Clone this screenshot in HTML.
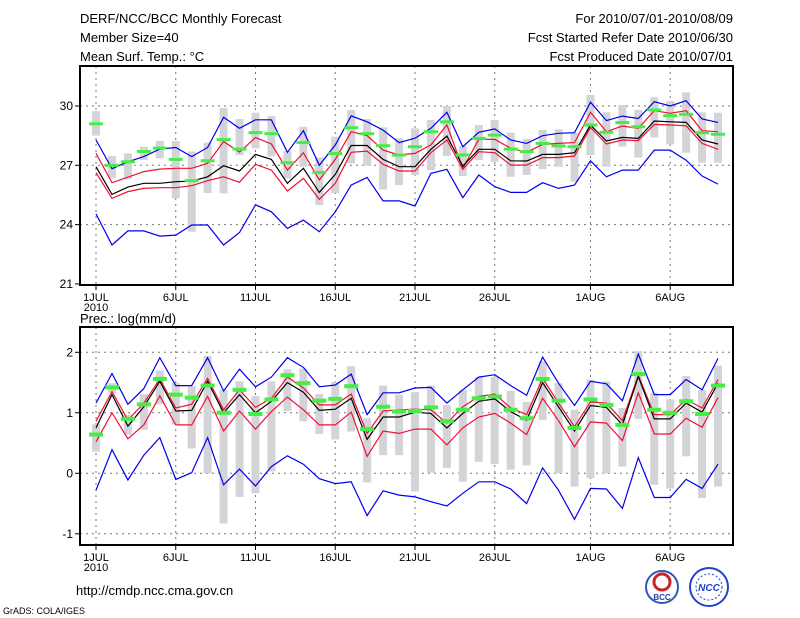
<!DOCTYPE html>
<html><head><meta charset="utf-8"><style>
html,body{margin:0;padding:0;background:#fff;}
svg{display:block;font-family:"Liberation Sans",sans-serif;}
</style></head><body>
<svg id="c" width="800" height="618" viewBox="0 0 800 618" xmlns="http://www.w3.org/2000/svg">
<g font-size="13" fill="#000">
<text x="80" y="23">DERF/NCC/BCC Monthly Forecast</text>
<text x="80" y="42">Member Size=40</text>
<text x="80" y="61">Mean Surf. Temp.: °C</text>
<text x="733" y="23" text-anchor="end">For 2010/07/01-2010/08/09</text>
<text x="733" y="42" text-anchor="end">Fcst Started Refer Date 2010/06/30</text>
<text x="733" y="61" text-anchor="end">Fcst Produced Date 2010/07/01</text>
<text x="80" y="323">Prec.: log(mm/d)</text>
<text x="76" y="595">http://cmdp.ncc.cma.gov.cn</text>
<text x="3" y="614" font-size="9">GrADS: COLA/IGES</text>
</g>
<g>
<circle cx="662" cy="587" r="16" fill="#fff" stroke="#3355bb" stroke-width="2"/>
<circle cx="662" cy="582" r="8" fill="none" stroke="#cc2222" stroke-width="3"/>
<text x="662" y="600" font-size="8" text-anchor="middle" fill="#2244aa" font-weight="bold">BCC</text>
</g>
<g>
<circle cx="709" cy="587" r="19" fill="#fff" stroke="#2244cc" stroke-width="2"/>
<circle cx="709" cy="587" r="13" fill="none" stroke="#2244cc" stroke-width="1" stroke-dasharray="2 2"/>
<text x="709" y="591" font-size="10" text-anchor="middle" fill="#2244cc" font-weight="bold" font-style="italic">NCC</text>
</g>
<g id="plots"></g>
</svg>
<script>
// ---- Temperature panel data (days 0..39 from 1 Jul 2010) ----
const tBoxHi=[29.74,27.47,27.6,27.94,28.23,28.23,27.7,28.15,29.9,29.34,29.66,29.5,27.72,28.95,27.4,28.45,29.8,29.34,28.92,28.37,28.87,29.3,30.0,27.98,29.04,29.3,28.65,28.33,28.79,28.82,28.65,30.56,29.68,30.05,29.8,30.44,30.25,30.69,29.68,29.66];
const tBoxLo=[28.5,26.34,26.3,27.27,27.35,25.33,23.64,25.6,25.58,27.52,27.86,27.44,26.34,26.93,24.99,25.6,27.1,26.98,25.78,26.0,26.51,26.76,27.47,26.46,27.27,27.18,26.42,26.51,26.81,26.93,26.17,27.52,26.93,27.94,27.39,28.4,28.06,27.64,27.13,27.13];
const tObs=[29.1,27.0,27.18,27.7,27.87,27.3,26.22,27.23,28.3,27.82,28.65,28.6,27.13,28.15,26.64,27.59,28.9,28.6,27.99,27.52,27.94,28.7,29.2,27.52,28.36,28.53,27.82,27.69,28.11,27.98,27.94,29.04,28.67,29.16,28.95,29.8,29.51,29.58,28.65,28.57];
const tBlueHi=[28.28,26.83,27.18,27.44,27.82,27.9,27.44,27.9,29.43,28.87,29.3,29.3,27.66,28.75,27.0,28.03,29.5,29.2,28.78,28.15,28.37,28.87,29.68,27.94,28.67,28.84,28.28,28.11,28.5,28.62,28.65,30.19,29.26,29.49,29.37,30.22,30.0,30.27,29.34,29.17];
const tRedHi=[27.6,26.12,26.4,26.68,26.81,26.85,26.85,27.1,28.2,27.67,28.4,28.08,26.76,27.64,26.26,27.3,28.7,28.5,27.77,27.52,27.6,28.03,29.04,26.85,28.31,28.31,27.86,27.66,28.06,28.11,28.15,29.68,28.7,28.99,28.87,29.76,29.63,29.76,28.75,28.7];
const tMean=[26.93,25.53,25.9,26.09,26.09,26.17,26.2,26.42,26.98,26.71,27.55,27.3,26.09,26.85,25.63,26.54,28.0,28.0,27.3,26.93,26.93,27.81,28.48,26.96,27.81,27.81,27.23,27.22,27.55,27.55,27.64,29.04,28.23,28.41,28.36,29.24,29.2,29.17,28.28,28.08];
const tRedLo=[26.63,25.33,25.67,25.83,25.87,25.87,25.97,26.22,26.42,26.14,27.05,26.76,25.7,26.34,25.28,26.09,27.66,27.72,27.05,26.71,26.71,27.64,28.28,26.8,27.69,27.64,27.01,27.01,27.39,27.39,27.47,28.92,28.08,28.28,28.25,29.07,29.04,29.0,28.11,27.81];
const tBlueLo=[24.54,22.97,23.68,23.68,23.42,23.47,23.98,23.98,22.97,23.6,25.0,24.65,23.81,24.23,23.64,24.65,26.0,26.39,25.2,25.2,24.94,26.59,26.8,25.36,26.51,25.92,25.63,25.63,26.12,25.83,26.0,27.23,26.42,26.76,26.76,27.77,27.77,27.26,26.46,26.05];
const tTicks=[21,24,27,30];
// ---- Precipitation panel data ----
const pBoxHi=[0.81,1.49,0.97,1.31,1.7,1.49,1.44,1.94,1.38,1.52,1.28,1.52,1.72,1.73,1.31,1.51,1.77,0.91,1.45,1.3,1.34,1.45,1.13,1.38,1.59,1.59,1.36,1.18,1.85,1.49,1.05,1.55,1.52,1.08,2.02,1.33,1.22,1.61,1.38,1.78];
const pBoxLo=[0.36,1.33,0.64,0.72,1.14,0.81,0.41,0.0,-0.83,-0.39,-0.33,0.03,1.03,0.86,0.65,0.56,0.69,-0.15,0.3,0.3,-0.3,0.01,0.09,-0.14,0.19,0.15,0.06,0.13,0.88,0.0,-0.22,-0.08,0.0,0.11,0.9,-0.19,-0.25,0.28,-0.41,-0.22];
const pObs=[0.64,1.42,0.9,1.14,1.56,1.3,1.25,1.45,1.0,1.38,0.98,1.22,1.62,1.49,1.2,1.23,1.44,0.73,1.1,1.02,1.03,1.09,0.86,1.05,1.24,1.27,1.05,0.91,1.56,1.2,0.75,1.22,1.13,0.8,1.64,1.05,1.0,1.19,0.98,1.45];
const pBlueHi=[1.16,1.65,1.14,1.4,1.91,1.45,1.45,1.91,1.36,1.72,1.43,1.59,1.91,1.75,1.43,1.46,1.64,0.97,1.33,1.33,1.41,1.42,1.16,1.38,1.59,1.63,1.45,1.29,1.92,1.49,1.12,1.52,1.48,1.2,1.97,1.3,1.3,1.55,1.38,1.9];
const pRedHi=[0.86,1.35,0.88,1.16,1.56,1.08,1.14,1.57,1.05,1.38,1.09,1.24,1.59,1.41,1.13,1.13,1.31,0.66,1.03,1.05,1.06,1.05,0.83,1.1,1.27,1.31,1.08,0.97,1.57,1.16,0.77,1.18,1.16,0.87,1.62,0.97,0.97,1.22,1.08,1.55];
const pMean=[0.75,1.3,0.78,1.1,1.52,1.03,1.04,1.52,1.0,1.3,1.0,1.19,1.5,1.34,1.04,1.06,1.24,0.56,0.93,0.93,1.01,0.99,0.75,0.99,1.19,1.23,1.02,0.88,1.5,1.1,0.7,1.12,1.09,0.8,1.6,0.9,0.9,1.16,1.01,1.49];
const pRedLo=[0.52,1.0,0.57,0.8,1.28,0.8,0.8,1.27,0.7,1.03,0.73,1.02,1.26,1.05,0.8,0.8,1.01,0.28,0.7,0.66,0.73,0.73,0.47,0.75,0.93,0.99,0.83,0.64,1.24,0.87,0.44,0.85,0.83,0.54,1.33,0.65,0.65,0.91,0.76,1.25];
const pBlueLo=[-0.28,0.39,-0.11,0.3,0.59,-0.1,0.01,0.59,-0.19,0.07,-0.21,0.11,0.29,0.15,-0.09,-0.17,-0.14,-0.7,-0.29,-0.36,-0.39,-0.47,-0.54,-0.33,-0.14,-0.14,-0.26,-0.5,0.09,-0.28,-0.76,-0.25,-0.26,-0.58,0.26,-0.4,-0.4,-0.1,-0.25,0.15];
const pTicks=[-1,0,1,2];
const xTickDays=[0,5,10,15,20,25,31,36];
const xTickLabels=["1JUL","6JUL","11JUL","16JUL","21JUL","26JUL","1AUG","6AUG"];

const NS="http://www.w3.org/2000/svg";
const root=document.getElementById('plots');
const X0=80,X1=733;
function xs(d){return 96+d*15.95;}
function mk(tag,attrs,parent){const e=document.createElementNS(NS,tag);for(const k in attrs)e.setAttribute(k,attrs[k]);parent.appendChild(e);return e;}

function panel(name,top,bottom,vTop,vBot,ys,ticks,boxHi,boxLo,obs,bHi,rHi,mean,rLo,bLo,obsH){
  const g=mk('g',{},root);
  
  
  // grid
  ticks.forEach(t=>{const y=ys(t);if(y>top+2&&y<bottom-2){const l=mk('line',{x1:X0,x2:X1,y1:y,y2:y,stroke:'#777','stroke-dasharray':'2 4','stroke-width':1},g);
    }});
  xTickDays.forEach(d=>{const l=mk('line',{x1:xs(d),x2:xs(d),y1:top,y2:bottom,stroke:'#777','stroke-dasharray':'2 4','stroke-width':1},g);
    });
  // boxes
  boxHi.forEach((v,i)=>{const y1=ys(v),y2=ys(boxLo[i]);const r=mk('rect',{x:xs(i)-4,y:y1,width:8,height:Math.max(1,y2-y1),fill:'#d4d4d8'},g);
    });
  const line=(arr,col,nm)=>{const p=mk('polyline',{points:arr.map((v,i)=>xs(i).toFixed(1)+','+ys(v).toFixed(1)).join(' '),fill:'none',stroke:col,'stroke-width':1.2},g);
    };
  line(bLo,'#0000ee','lower-bound-line');
  line(rLo,'#ee1133','lower-quartile-line');
  line(bHi,'#0000ee','upper-bound-line');
  line(rHi,'#ee1133','upper-quartile-line');
  line(mean,'#000','ensemble-mean-line');
  obs.forEach((v,i)=>{const r=mk('rect',{x:xs(i)-7,y:ys(v)-obsH/2,width:14,height:obsH,fill:'#44ee44'},g);
    });
  // frame
  const f=mk('rect',{x:X0,y:top,width:X1-X0,height:bottom-top,fill:'none',stroke:'#000','stroke-width':2},g);
  
  ticks.forEach(t=>{const y=ys(t);mk('line',{x1:X0-5,x2:X0,y1:y,y2:y,stroke:'#000'},g);
    const tx=mk('text',{x:X0-7,y:y+4,'font-size':12,'text-anchor':'end'},g);tx.textContent=t;
    });
  xTickDays.forEach((d,k)=>{mk('line',{x1:xs(d),x2:xs(d),y1:bottom,y2:bottom+5,stroke:'#000'},g);
    const tx=mk('text',{x:xs(d),y:bottom+16,'font-size':11,'text-anchor':'middle'},g);tx.textContent=xTickLabels[k];
    });
  const yr=mk('text',{x:xs(0),y:bottom+26,'font-size':11,'text-anchor':'middle'},g);yr.textContent='2010';
  
}
const tys=v=>106+(30-v)*19.77;
const pys=v=>473.3-v*60.5;
panel('temperature-panel',66,285,0,0,tys,tTicks,tBoxHi,tBoxLo,tObs,tBlueHi,tRedHi,tMean,tRedLo,tBlueLo,3);
panel('precipitation-panel',327,545,0,0,pys,pTicks,pBoxHi,pBoxLo,pObs,pBlueHi,pRedHi,pMean,pRedLo,pBlueLo,4);
</script>
</body></html>
